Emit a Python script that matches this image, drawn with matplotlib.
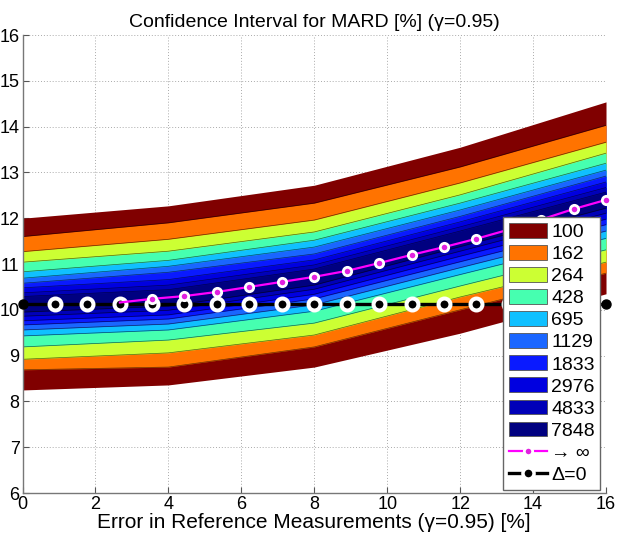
import matplotlib
matplotlib.use("Agg")
import matplotlib.pyplot as plt
from matplotlib.patches import Patch
from matplotlib.lines import Line2D
import numpy as np

plt.rcParams['font.family'] = ['Liberation Sans', 'DejaVu Sans']

# ---- data ----
sample_sizes = [100, 162, 264, 428, 695, 1129, 1833, 2976, 4833, 7848]
band_colors = ['#800000', '#ff7300', '#ccff33', '#46ffb0', '#10c0ff',
               '#1a66ff', '#0a1aff', '#0000e0', '#0000b8', '#000080']

x_band = [0, 4, 8, 12, 16]
upper = {
    100:  [12.00, 12.27, 12.72, 13.55, 14.54],
    162:  [11.60, 11.90, 12.33, 13.12, 14.03],
    264:  [11.27, 11.54, 11.96, 12.77, 13.66],
    428:  [11.04, 11.28, 11.70, 12.51, 13.42],
    695:  [10.83, 11.08, 11.52, 12.33, 13.20],
    1129: [10.69, 10.95, 11.37, 12.18, 13.05],
    1833: [10.58, 10.82, 11.22, 12.04, 12.92],
    2976: [10.48, 10.66, 11.09, 11.92, 12.79],
    4833: [10.37, 10.54, 10.98, 11.81, 12.67],
    7848: [10.29, 10.44, 10.89, 11.72, 12.57],
}
lower = {
    100:  [8.25, 8.36, 8.75, 9.49, 10.35],
    162:  [8.69, 8.75, 9.19, 10.00, 10.80],
    264:  [8.92, 9.06, 9.45, 10.28, 11.04],
    428:  [9.19, 9.34, 9.71, 10.52, 11.31],
    695:  [9.43, 9.56, 9.97, 10.77, 11.56],
    1129: [9.56, 9.69, 10.11, 10.92, 11.72],
    1833: [9.67, 9.80, 10.24, 11.05, 11.86],
    2976: [9.76, 9.89, 10.34, 11.17, 11.98],
    4833: [9.86, 9.99, 10.45, 11.28, 12.11],
    7848: [9.95, 10.08, 10.54, 11.38, 12.22],
}

x_err = [0.00, 0.89, 1.78, 2.67, 3.56, 4.44, 5.33, 6.22, 7.11, 8.00,
         8.89, 9.78, 10.67, 11.56, 12.44, 13.33, 14.22, 15.11, 16.00]
mard_inf = [10.12, 10.12, 10.13, 10.16, 10.24, 10.30, 10.39, 10.50, 10.61, 10.72,
            10.85, 11.02, 11.20, 11.37, 11.55, 11.75, 11.97, 12.20, 12.40]
mard_delta0 = [10.12] * 19

xticks = list(range(0, 17, 2))
yticks = list(range(6, 17))

# ---- figure ----
fig = plt.figure(figsize=(6.22, 5.47), dpi=100)
ax = fig.add_axes([0.0362, 0.0987, 0.9381, 0.8373])

for i, n in enumerate(sample_sizes):
    ax.fill_between(x_band, lower[n], upper[n], color=band_colors[i], lw=0, zorder=2)
    if i > 0:
        ax.plot(x_band, upper[n], color='k', lw=0.5, alpha=0.6, zorder=2.1)
        ax.plot(x_band, lower[n], color='k', lw=0.5, alpha=0.6, zorder=2.1)

# Delta = 0 line
ax.plot(x_err, mard_delta0, color='k', lw=2.4, zorder=3)
ax.plot(x_err[1:-1], mard_delta0[1:-1], ls='none', marker='o', ms=8.6,
        mfc='k', mec='white', mew=2.9, zorder=3.2)
ax.plot([x_err[0], x_err[-1]], [mard_delta0[0], mard_delta0[-1]], ls='none',
        marker='o', ms=6.5, mfc='k', mec='k', zorder=3.2, clip_on=False)

# -> infinity line
ax.plot(x_err[3:], mard_inf[3:], color='#ff00ff', lw=1.6, zorder=4)
ax.plot(x_err[4:], mard_inf[4:], ls='none', marker='o', ms=6.0,
        mfc='#e020e0', mec='white', mew=2.0, zorder=4.2, clip_on=False)

ax.set_xlim(0, 16)
ax.set_ylim(6, 16)
ax.set_xticks(xticks)
ax.set_yticks(yticks)
ax.tick_params(direction='in', length=4, width=0.8, labelsize=13, pad=2,
               color='#555555')
ax.tick_params(axis='x', pad=2)
for s in ['top', 'right']:
    ax.spines[s].set_visible(False)
for s in ['left', 'bottom']:
    ax.spines[s].set_color('#777777')
    ax.spines[s].set_linewidth(1.0)
ax.grid(True, ls=(0, (1, 2)), color='#aaaaaa', lw=0.7, zorder=0)
ax.set_axisbelow(True)

ax.set_title('Confidence Interval for MARD [%] (γ=0.95)', fontsize=14, pad=6)
ax.set_xlabel('Error in Reference Measurements (γ=0.95) [%]', fontsize=15, labelpad=0)

handles = [Patch(facecolor=c, edgecolor='#555555', lw=0.6) for c in band_colors]
handles.append(Line2D([], [], color='#ff00ff', lw=1.6, marker='o', ms=6,
                      mfc='#e020e0', mec='white', mew=2))
handles.append(Line2D([], [], color='k', lw=2.4, marker='o', ms=8,
                      mfc='k', mec='white', mew=2.5))
labels = [str(n) for n in sample_sizes] + ['→ ∞', 'Δ=0']
leg = ax.legend(handles, labels, loc='lower left',
                bbox_to_anchor=(0.823, 0.007, 0.167, 0.611), mode='expand',
                fontsize=14, handlelength=2.0, handleheight=0.8,
                handletextpad=0.2, labelspacing=0.2, borderpad=0.3,
                borderaxespad=0, fancybox=False, framealpha=1,
                edgecolor='#666666')
leg.get_frame().set_linewidth(1.0)
leg.set_zorder(10)

fig.savefig('out.png', dpi=100)
